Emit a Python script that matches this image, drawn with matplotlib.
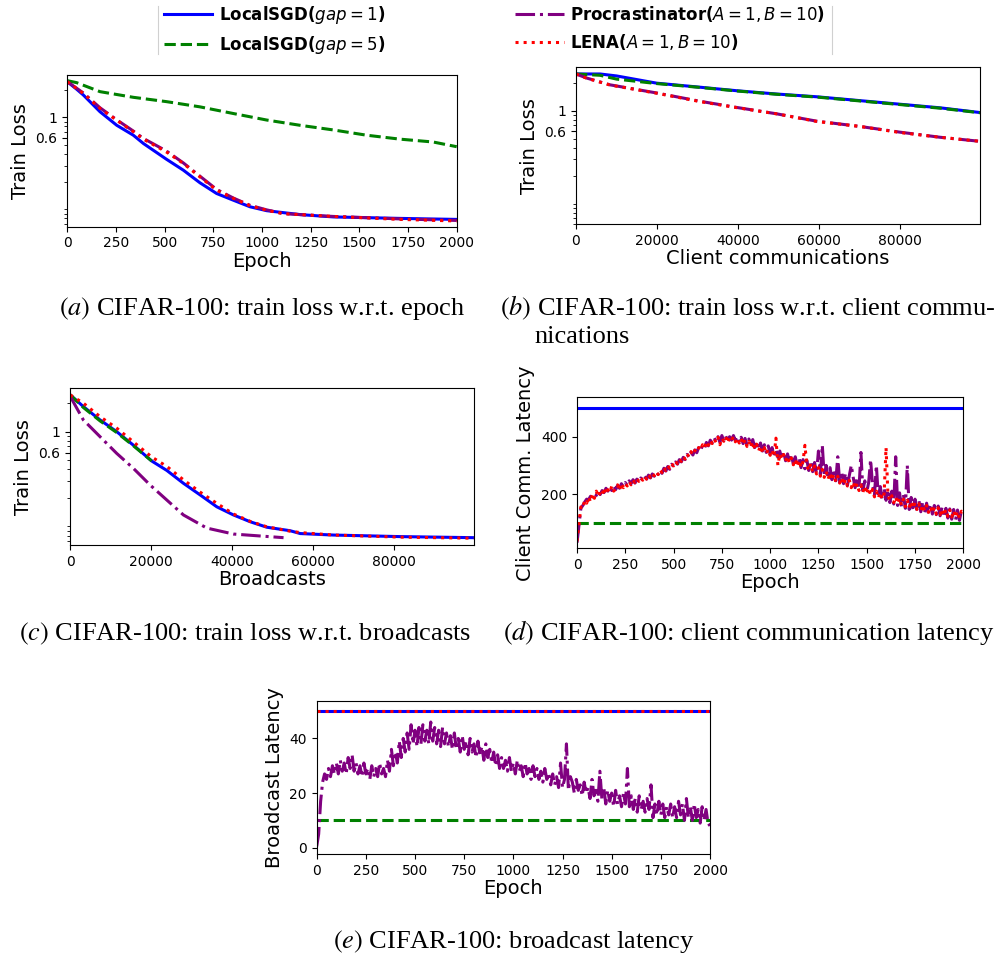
import numpy as np
import matplotlib
matplotlib.use("Agg")
import matplotlib.pyplot as plt
from matplotlib.ticker import LogLocator, NullFormatter, FixedLocator
from matplotlib.lines import Line2D

# ---------------- data ----------------
labels = ['LocalSGD($gap = 1$)', 'LocalSGD($gap = 5$)',
          'Procrastinator($A = 1, B = 10$)', 'LENA($A = 1, B = 10$)']
colors = ['blue', 'green', 'purple', 'red']
styles = ['-', '--', '-.', ':']

# (a) train loss vs epoch
a_epoch_fast = [0, 48, 82, 168, 254, 339, 391, 510, 596, 681, 767, 853, 938,
                1024, 1195, 1366, 1708, 2000]
a_gap1 = [2.44, 2.02, 1.75, 1.15, 0.82, 0.64, 0.52, 0.35, 0.267, 0.195, 0.149,
          0.126, 0.107, 0.097, 0.088, 0.083, 0.080, 0.078]
a_epoch_lena = [0, 82, 168, 254, 339, 391, 510, 596, 681, 767, 853, 938, 1024,
                1110, 1366, 1708, 2000]
a_proc = [2.44, 1.84, 1.27, 0.94, 0.71, 0.59, 0.43, 0.32, 0.23, 0.165, 0.133,
          0.111, 0.099, 0.090, 0.084, 0.079, 0.076]
a_lena = [2.44, 1.82, 1.25, 0.93, 0.70, 0.58, 0.42, 0.316, 0.226, 0.162, 0.132,
          0.110, 0.098, 0.090, 0.084, 0.078, 0.075]
a_epoch_gap5 = [0, 48, 168, 339, 510, 681, 853, 1024, 1195, 1366, 1537, 1708,
                1879, 2000]
a_gap5 = [2.50, 2.38, 1.90, 1.65, 1.48, 1.30, 1.10, 0.935, 0.82, 0.73, 0.64,
          0.58, 0.54, 0.48]

# (b) train loss vs client communications
b_comm = [0, 5926, 10040, 19920, 30620, 39670, 49550, 59420, 70120, 80000,
          89880, 99750]
b_gap1 = [2.50, 2.50, 2.38, 1.99, 1.80, 1.65, 1.52, 1.42, 1.29, 1.18, 1.08, 0.96]
b_gap5 = [2.50, 2.42, 2.20, 1.97, 1.79, 1.64, 1.51, 1.41, 1.28, 1.17, 1.07, 0.955]
b_comm_lena = [0, 2630, 8390, 19920, 30620, 39670, 49550, 59420, 70120, 80000,
               89880, 99750]
b_proc = [2.50, 2.26, 1.91, 1.56, 1.27, 1.09, 0.93, 0.775, 0.68, 0.59, 0.52, 0.47]
b_lena = [2.50, 2.25, 1.90, 1.55, 1.26, 1.085, 0.93, 0.77, 0.68, 0.585, 0.52, 0.47]

# (c) train loss vs broadcasts
c_bc = [0, 3230, 7360, 11480, 15610, 20150, 23870, 28000, 32120, 36250, 40380,
        44500, 48630, 54400, 56900, 65150, 81660, 99820]
c_gap1 = [2.44, 1.84, 1.33, 1.00, 0.72, 0.49, 0.39, 0.285, 0.215, 0.161, 0.132,
          0.112, 0.098, 0.090, 0.084, 0.081, 0.078, 0.076]
c_lena = [2.44, 2.00, 1.44, 1.09, 0.78, 0.54, 0.43, 0.31, 0.23, 0.175, 0.135,
          0.113, 0.099, 0.089, 0.086, 0.081, 0.077, 0.075]
c_bc_gap5 = [0, 3230, 7360, 11480, 15610, 20150]
c_gap5 = [2.44, 1.80, 1.30, 0.98, 0.71, 0.49]
c_bc_proc = [0, 3230, 7360, 11480, 15610, 19730, 23870, 28000, 33770, 40380, 52770]
c_proc = [2.35, 1.33, 0.885, 0.59, 0.41, 0.274, 0.19, 0.132, 0.096, 0.083, 0.076]

# (d)/(e) latency vs epoch (one value every 10 epochs)
lat_epochs = list(range(0, 2001, 10))
const_epochs = [0, 2000]
d_gap1 = [500, 500]
d_gap5 = [100, 100]
d_lena = [
    35, 95, 155, 150, 178, 168, 190, 172, 200, 185,
    210, 190, 208, 198, 222, 200, 215, 205, 228, 210,
    218, 232, 212, 238, 222, 236, 228, 244, 232, 248,
    240, 254, 244, 258, 248, 262, 252, 268, 258, 272,
    264, 278, 268, 285, 275, 292, 282, 298, 290, 306,
    298, 314, 306, 322, 314, 330, 322, 340, 330, 348,
    336, 352, 345, 362, 352, 372, 360, 382, 370, 388,
    376, 392, 380, 398, 372, 395, 384, 400, 378, 396,
    386, 400, 382, 396, 378, 394, 372, 390, 366, 384,
    362, 382, 358, 374, 350, 368, 346, 362, 340, 356,
    335, 352, 330, 395, 300, 340, 322, 338, 315, 332,
    308, 326, 302, 322, 296, 318, 292, 312, 370, 300,
    282, 306, 276, 298, 270, 292, 262, 286, 258, 280,
    252, 274, 248, 268, 242, 262, 238, 258, 232, 252,
    228, 248, 222, 242, 218, 236, 212, 232, 206, 228,
    200, 222, 196, 216, 190, 210, 186, 206, 182, 200,
    362, 196, 176, 194, 170, 190, 166, 186, 160, 182,
    156, 178, 152, 174, 150, 170, 146, 166, 142, 162,
    140, 160, 136, 156, 134, 154, 130, 152, 128, 148,
    124, 146, 122, 144, 120, 142, 118, 140, 116, 140,
    136]
d_proc = [
    30, 90, 150, 160, 172, 182, 180, 192, 190, 198,
    195, 210, 198, 212, 205, 220, 210, 224, 212, 228,
    215, 230, 220, 236, 225, 240, 230, 246, 236, 250,
    238, 252, 242, 256, 248, 262, 252, 266, 256, 270,
    262, 276, 268, 282, 272, 290, 280, 296, 286, 304,
    296, 312, 304, 320, 312, 328, 320, 338, 328, 346,
    336, 354, 344, 362, 352, 370, 360, 380, 368, 388,
    378, 396, 384, 400, 380, 404, 386, 402, 384, 400,
    388, 404, 386, 400, 380, 398, 376, 394, 372, 392,
    368, 390, 362, 384, 356, 378, 350, 372, 345, 368,
    340, 362, 334, 356, 328, 350, 322, 346, 316, 340,
    310, 336, 304, 330, 298, 326, 292, 320, 288, 318,
    282, 314, 278, 310, 272, 350, 268, 370, 262, 300,
    255, 292, 250, 285, 246, 330, 240, 278, 236, 272,
    230, 266, 300, 258, 222, 252, 218, 345, 212, 246,
    206, 240, 320, 232, 196, 300, 190, 226, 182, 220,
    178, 214, 170, 210, 165, 330, 160, 204, 156, 198,
    150, 300, 146, 188, 142, 182, 140, 178, 138, 172,
    134, 168, 132, 164, 130, 160, 128, 158, 124, 154,
    120, 150, 116, 148, 112, 146, 110, 144, 108, 142,
    140]
e_gap1 = [50, 50]
e_lena = [50, 50]
e_gap5 = [10, 10]
e_proc = [
    0.5, 5, 17, 24, 27, 25, 29, 26, 30, 27,
    31, 27, 32, 28, 31, 27, 33, 29, 34, 28,
    31, 27, 30, 26, 31, 27, 29, 25, 30, 26,
    29, 26, 31, 27, 29, 26, 32, 28, 36, 30,
    35, 31, 39, 33, 40, 35, 42, 36, 45, 38,
    43, 37, 44, 38, 45, 39, 43, 38, 46, 39,
    44, 38, 43, 37, 44, 38, 42, 37, 41, 36,
    42, 36, 40, 35, 41, 36, 39, 34, 40, 35,
    38, 33, 39, 34, 37, 32, 38, 33, 36, 31,
    35, 30, 34, 29, 33, 29, 32, 28, 33, 28,
    31, 27, 32, 28, 30, 26, 31, 27, 29, 25,
    30, 26, 29, 25, 28, 24, 29, 25, 27, 23,
    27, 23, 26, 22, 31, 22, 25, 38, 21, 26,
    24, 20, 25, 21, 23, 19, 24, 20, 22, 18,
    25, 19, 21, 17, 28, 18, 22, 16, 21, 17,
    20, 15, 21, 16, 19, 15, 20, 16, 29, 15,
    19, 14, 18, 13, 19, 14, 17, 13, 18, 14,
    23, 11, 16, 12, 17, 12, 16, 11, 15, 12,
    16, 11, 15, 11, 17, 12, 16, 10, 18, 11,
    15, 10, 16, 11, 14, 9, 15, 10, 14, 9,
    8]

# ---------------- figure ----------------
W, H = 1002, 959
fig = plt.figure(figsize=(W / 100, H / 100), dpi=100)

def rect(l, r, t, b):
    return [l / W, 1 - b / H, (r - l) / W, (b - t) / H]

LW = 2.2
TICK_FS = 10
LAB_FS = 14

def style_log(ax, ylim):
    ax.set_yscale('log')
    ax.set_ylim(*ylim)
    ax.yaxis.set_major_locator(FixedLocator([0.6, 1]))
    ax.set_yticklabels(['0.6', '1'])
    ax.yaxis.set_minor_locator(LogLocator(base=10, subs=np.arange(1, 10)))
    ax.yaxis.set_minor_formatter(NullFormatter())

def common(ax):
    ax.tick_params(labelsize=TICK_FS)

# (a)
ax = fig.add_axes(rect(67.3, 456.7, 75.3, 226.7))
h1, = ax.plot(a_epoch_fast, a_gap1, styles[0], color=colors[0], lw=LW)
h2, = ax.plot(a_epoch_gap5, a_gap5, styles[1], color=colors[1], lw=LW)
h3, = ax.plot(a_epoch_lena, a_proc, styles[2], color=colors[2], lw=LW)
h4, = ax.plot(a_epoch_lena, a_lena, styles[3], color=colors[3], lw=LW)
style_log(ax, (0.065, 2.86))
ax.set_xlim(0, 2000)
ax.set_xticks(range(0, 2001, 250))
ax.set_xlabel('Epoch', fontsize=LAB_FS, labelpad=1)
ax.set_ylabel('Train Loss', fontsize=LAB_FS)
common(ax)

# (b)
ax = fig.add_axes(rect(576, 980, 67.3, 224.3))
ax.plot(b_comm, b_gap1, styles[0], color=colors[0], lw=LW)
ax.plot(b_comm, b_gap5, styles[1], color=colors[1], lw=LW)
ax.plot(b_comm_lena, b_proc, styles[2], color=colors[2], lw=LW)
ax.plot(b_comm_lena, b_lena, styles[3], color=colors[3], lw=LW)
style_log(ax, (0.06, 2.95))
ax.set_xlim(0, 99750)
ax.set_xticks(range(0, 80001, 20000))
ax.set_xlabel('Client communications', fontsize=LAB_FS, labelpad=1)
ax.set_ylabel('Train Loss', fontsize=LAB_FS)
common(ax)

# (c)
ax = fig.add_axes(rect(70.3, 474, 388.3, 545))
ax.plot(c_bc, c_gap1, styles[0], color=colors[0], lw=LW)
ax.plot(c_bc_gap5, c_gap5, styles[1], color=colors[1], lw=LW)
ax.plot(c_bc_proc, c_proc, styles[2], color=colors[2], lw=LW)
ax.plot(c_bc, c_lena, styles[3], color=colors[3], lw=LW)
style_log(ax, (0.0636, 2.87))
ax.set_xlim(0, 99900)
ax.set_xticks(range(0, 80001, 20000))
ax.set_xlabel('Broadcasts', fontsize=LAB_FS, labelpad=1)
ax.set_ylabel('Train Loss', fontsize=LAB_FS)
common(ax)

# (d)
ax = fig.add_axes(rect(577, 963.3, 397.3, 548.3))
ax.plot(const_epochs, d_gap1, styles[0], color=colors[0], lw=LW)
ax.plot(const_epochs, d_gap5, styles[1], color=colors[1], lw=LW)
ax.plot(lat_epochs, d_proc, styles[2], color=colors[2], lw=LW)
ax.plot(lat_epochs, d_lena, styles[3], color=colors[3], lw=LW)
ax.set_xlim(0, 2000)
ax.set_ylim(10.5, 537.5)
ax.set_xticks(range(0, 2001, 250))
ax.set_yticks([200, 400])
ax.set_xlabel('Epoch', fontsize=LAB_FS, labelpad=1)
ax.set_ylabel('Client Comm. Latency', fontsize=LAB_FS)
common(ax)

# (e)
ax = fig.add_axes(rect(316.7, 710, 700.7, 854))
ax.plot(const_epochs, e_gap1, styles[0], color=colors[0], lw=LW)
ax.plot(const_epochs, e_gap5, styles[1], color=colors[1], lw=LW)
ax.plot(lat_epochs, e_proc, styles[2], color=colors[2], lw=LW)
ax.plot(const_epochs, e_lena, styles[3], color=colors[3], lw=LW)
ax.set_xlim(0, 2000)
ax.set_ylim(-2.3, 53.8)
ax.set_xticks(range(0, 2001, 250))
ax.set_yticks([0, 20, 40])
ax.set_xlabel('Epoch', fontsize=LAB_FS, labelpad=1)
ax.set_ylabel('Broadcast Latency', fontsize=LAB_FS)
common(ax)

# legend
fig.legend([h1, h2, h3, h4], labels, ncol=2, loc='upper left',
           bbox_to_anchor=(164 / W, 1 - 4 / H), frameon=False,
           prop={'weight': 'bold', 'size': 12}, handlelength=2.9,
           handletextpad=0.4, columnspacing=7.8, labelspacing=0.45,
           borderpad=0, borderaxespad=0)
for xpix in (158, 832):
    fig.add_artist(Line2D([xpix / W, xpix / W], [1 - 6 / H, 1 - 54 / H],
                          color='#d0d0d0', lw=0.8, transform=fig.transFigure))

# captions
CAP = dict(fontsize=19, family='Liberation Serif', math_fontfamily='stix')
def cap(x, y, s, ha='center'):
    fig.text(x / W, 1 - y / H, s, ha=ha, va='baseline', **CAP)

cap(262, 315, r'$(a)$ CIFAR-100: train loss w.r.t. epoch')
cap(500, 315, r'$(b)$ CIFAR-100: train loss w.r.t. client commu-', ha='left')
cap(534, 343, 'nications', ha='left')
cap(245, 640, r'$(c)$ CIFAR-100: train loss w.r.t. broadcasts')
cap(748.5, 640, r'$(d)$ CIFAR-100: client communication latency')
cap(513.5, 948, r'$(e)$ CIFAR-100: broadcast latency')

fig.savefig('out.png', dpi=100)
